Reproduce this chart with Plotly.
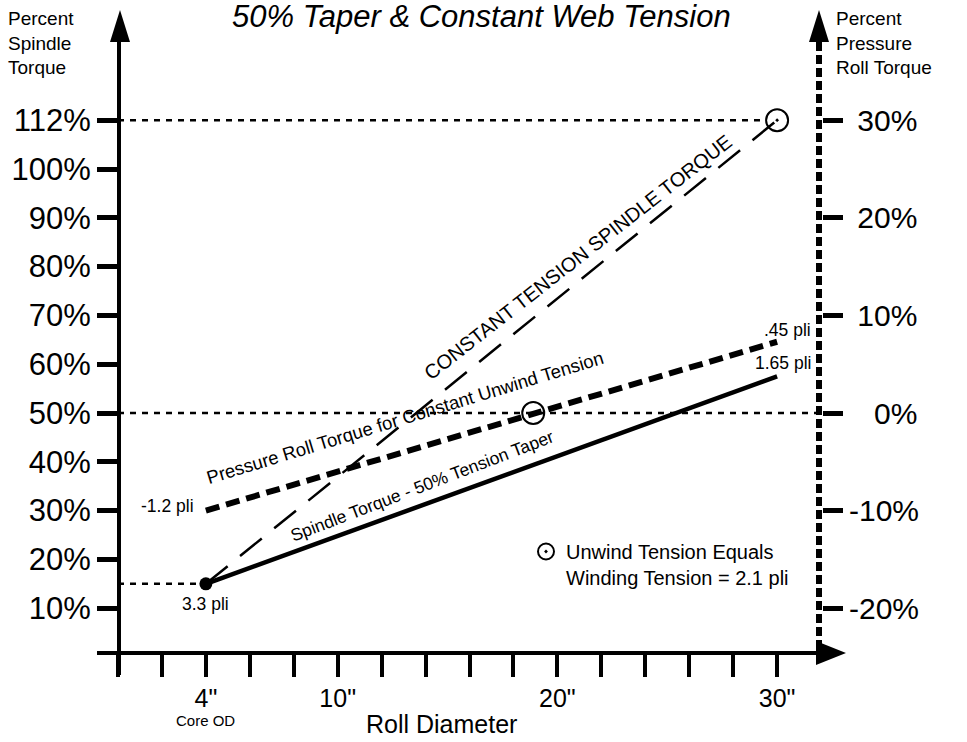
import plotly.graph_objects as go

W, H = 967, 742
FONT = "Liberation Sans, Arial, sans-serif"

# ---------------- data ----------------
roll_diameter = [4, 30]                      # inches
const_tension_torque = [15, 110]             # % spindle torque (left scale)
spindle_taper_torque = [15, 57.5]            # % spindle torque (left scale)
pressure_roll_torque = [-10, 7.3]            # % pressure roll torque (right scale)

equal_tension_x = [18.9]
equal_tension_y = [0]                        # right scale
max_point_x = [30]
max_point_y = [110]                          # left scale
core_point_x = [4]
core_point_y = [15]

ref_top_x = [0, 29.4]
ref_top_y = [110, 110]
ref_mid_x = [0, 31.9]
ref_mid_y = [50, 50]
ref_core_x = [0, 4]
ref_core_y = [15, 15]

x_tickvals = [0, 2, 4, 6, 8, 10, 12, 14, 16, 18, 20, 22, 24, 26, 28, 30]
x_ticktext = ["", "", "4\"", "", "", "10\"", "", "", "", "", "20\"", "", "", "", "", "30\""]
left_tickvals = [10, 20, 30, 40, 50, 60, 70, 80, 90, 100, 110]
left_ticktext = ["10%", "20%", "30%", "40%", "50%", "60%", "70%", "80%", "90%", "100%", "112%"]
right_tickvals = [-20, -10, 0, 10, 20, 30]
right_ticktext = ["-20%", "-10%", "\u2008\u20070%", "\u200810%", "\u200820%", "\u200830%"]

# ---------------- pixel geometry helpers ----------------
X0_PX, X_PER_IN = 118.0, 21.97      # pixel of 0" and pixels per inch
Y50_PX, Y_PER_PCT = 413.0, 4.88     # pixel of 50% and pixels per percent


def xdata(px):
    return (px - X0_PX) / X_PER_IN


def ydata(py):
    return 50 + (Y50_PX - py) / Y_PER_PCT


def pxp(x):
    return x / W


def pyp(y):
    return 1 - y / H


x_dom_px = (97, 830)
y_dom_px = (675, 38)
x_range = [xdata(x_dom_px[0]), xdata(x_dom_px[1])]
y_range = [ydata(y_dom_px[0]), ydata(y_dom_px[1])]
y2_range = [(y_range[0] - 50) / 2, (y_range[1] - 50) / 2]

fig = go.Figure()

dotted = dict(color="black", width=2.5, dash="6px,6px")
for xs, ys in [(ref_top_x, ref_top_y), (ref_mid_x, ref_mid_y), (ref_core_x, ref_core_y)]:
    fig.add_trace(go.Scatter(x=xs, y=ys, mode="lines", line=dotted,
                             showlegend=False, hoverinfo="skip"))

fig.add_trace(go.Scatter(x=roll_diameter, y=const_tension_torque, mode="lines",
                         line=dict(color="black", width=2.5, dash="28px,16px"),
                         showlegend=False, name="Constant tension spindle torque"))
fig.add_trace(go.Scatter(x=roll_diameter, y=spindle_taper_torque, mode="lines",
                         line=dict(color="black", width=4.5),
                         showlegend=False, name="Spindle torque - 50% taper"))
fig.add_trace(go.Scatter(x=roll_diameter, y=pressure_roll_torque, mode="lines",
                         yaxis="y2",
                         line=dict(color="black", width=6, dash="14px,7px"),
                         showlegend=False, name="Pressure roll torque"))

fig.add_trace(go.Scatter(x=core_point_x, y=core_point_y, mode="markers",
                         marker=dict(color="black", size=13, symbol="circle"),
                         showlegend=False))
fig.add_trace(go.Scatter(x=max_point_x, y=max_point_y, mode="markers",
                         marker=dict(color="black", size=22, symbol="circle-open-dot",
                                     line=dict(width=2)),
                         showlegend=False))
fig.add_trace(go.Scatter(x=equal_tension_x, y=equal_tension_y, mode="markers", yaxis="y2",
                         marker=dict(color="black", size=22, symbol="circle-open-dot",
                                     line=dict(width=2)),
                         name="Unwind Tension Equals<br>Winding Tension = 2.1 pli",
                         showlegend=True))

shapes = [
    # right dashed axis
    dict(type="line", xref="paper", yref="paper", x0=pxp(819), x1=pxp(819),
         y0=pyp(662), y1=pyp(36), line=dict(color="black", width=6, dash="9px,4px")),
    # arrowheads
    dict(type="path", xref="paper", yref="paper",
         path=f"M {pxp(110)},{pyp(42)} L {pxp(120)},{pyp(10)} L {pxp(130)},{pyp(42)} Z",
         fillcolor="black", line=dict(width=0)),
    dict(type="path", xref="paper", yref="paper",
         path=f"M {pxp(809)},{pyp(42)} L {pxp(819)},{pyp(10)} L {pxp(829)},{pyp(42)} Z",
         fillcolor="black", line=dict(width=0)),
    dict(type="path", xref="paper", yref="paper",
         path=f"M {pxp(816)},{pyp(641)} L {pxp(846)},{pyp(653)} L {pxp(816)},{pyp(665)} Z",
         fillcolor="black", line=dict(width=0)),
]

lab = dict(family=FONT, size=17.5, color="black")
annotations = [
    dict(text="<i>50% Taper & Constant Web Tension</i>", xref="paper", yref="paper",
         x=pxp(481), y=pyp(16), xanchor="center", yanchor="middle", showarrow=False,
         font=dict(family=FONT, size=31, color="black")),
    dict(text="Percent<br>Spindle<br>Torque", xref="paper", yref="paper",
         x=pxp(6), y=pyp(6), xanchor="left", yanchor="top", align="left", showarrow=False,
         font=dict(family=FONT, size=19, color="black")),
    dict(text="Percent<br>Pressure<br>Roll Torque", xref="paper", yref="paper",
         x=pxp(834), y=pyp(6), xanchor="left", yanchor="top", align="left", showarrow=False,
         font=dict(family=FONT, size=19, color="black")),
    dict(text="Roll Diameter", xref="paper", yref="paper",
         x=pxp(441), y=pyp(724), xanchor="center", yanchor="middle", showarrow=False,
         font=dict(family=FONT, size=25, color="black")),
    dict(text="Core OD", xref="x", yref="paper", x=4, y=pyp(720),
         xanchor="center", yanchor="middle", showarrow=False,
         font=dict(family=FONT, size=15, color="black")),
    dict(text="CONSTANT TENSION SPINDLE TORQUE", xref="x", yref="y",
         x=xdata(578), y=ydata(257), textangle=-38, showarrow=False,
         font=dict(family=FONT, size=20, color="black")),
    dict(text="Pressure Roll Torque for Constant Unwind Tension", xref="x", yref="y",
         x=xdata(405), y=ydata(417), textangle=-17, showarrow=False,
         font=dict(family=FONT, size=18.5, color="black")),
    dict(text="Spindle Torque - 50% Tension Taper", xref="x", yref="y",
         x=xdata(422), y=ydata(486), textangle=-21, showarrow=False, font=lab),
    dict(text="-1.2 pli", xref="x", yref="y", x=xdata(196), y=ydata(506),
         xanchor="right", showarrow=False, font=lab),
    dict(text="3.3 pli", xref="x", yref="y", x=4, y=ydata(604),
         xanchor="center", showarrow=False, font=lab),
    dict(text=".45 pli", xref="x", yref="y", x=xdata(813), y=ydata(330),
         xanchor="right", showarrow=False, font=lab),
    dict(text="1.65 pli", xref="x", yref="y", x=xdata(813), y=ydata(363),
         xanchor="right", showarrow=False, font=lab),
]

fig.update_layout(
    width=W, height=H,
    margin=dict(l=0, r=0, t=0, b=0),
    paper_bgcolor="white", plot_bgcolor="rgba(0,0,0,0)",
    font=dict(family=FONT, color="black"),
    showlegend=True,
    legend=dict(x=pxp(526), y=pyp(532), xanchor="left", yanchor="top",
                font=dict(family=FONT, size=20, color="black"),
                bgcolor="rgba(0,0,0,0)", valign="top", itemwidth=30),
    xaxis=dict(domain=[pxp(x_dom_px[0]), pxp(x_dom_px[1])], range=x_range,
               anchor="free", position=pyp(653),
               showline=True, linewidth=4, linecolor="black",
               ticks="outside", ticklen=22, tickwidth=4, tickcolor="black",
               tickvals=x_tickvals, ticktext=x_ticktext,
               tickfont=dict(family=FONT, size=25, color="black"),
               showgrid=False, zeroline=False, fixedrange=True),
    yaxis=dict(domain=[pyp(y_dom_px[0]), pyp(y_dom_px[1])], range=y_range,
               anchor="free", position=pxp(119),
               showline=True, linewidth=4, linecolor="black",
               ticks="outside", ticklen=20, tickwidth=5, tickcolor="black",
               tickvals=left_tickvals, ticktext=left_ticktext,
               tickfont=dict(family=FONT, size=31, color="black"),
               showgrid=False, zeroline=False, fixedrange=True),
    yaxis2=dict(overlaying="y", side="right", range=y2_range,
                anchor="free", position=pxp(822),
                showline=False,
                ticks="outside", ticklen=20, tickwidth=5, tickcolor="black",
                tickvals=right_tickvals, ticktext=right_ticktext,
                tickfont=dict(family=FONT, size=30, color="black"),
                showgrid=False, zeroline=False, fixedrange=True),
    shapes=shapes,
    annotations=annotations,
)

fig.write_html("out.html", config={"displayModeBar": False},
               post_script="document.body.style.margin='0px';document.body.style.padding='0px';")
